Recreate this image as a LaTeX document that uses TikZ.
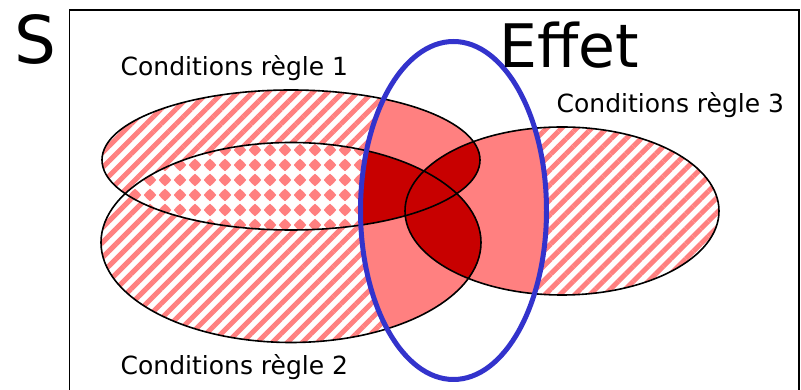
\documentclass[tikz,border=0pt]{standalone}
\usepackage{fontspec}
\setmainfont{DejaVu Sans}
\usetikzlibrary{patterns,patterns.meta}

\definecolor{lightred}{HTML}{FF8080}
\definecolor{darkred}{HTML}{C80000}
\definecolor{effetblue}{HTML}{3333CC}

\pgfdeclarepatternformonly{diamondgrid}{\pgfpoint{-7.5pt}{-7.5pt}}{\pgfpoint{7.5pt}{7.5pt}}{\pgfpoint{15pt}{15pt}}{
  \pgfpathmoveto{\pgfpoint{-6.2pt}{0pt}}
  \pgfpathcurveto{\pgfpoint{-4.8pt}{1.9pt}}{\pgfpoint{-1.9pt}{4.8pt}}{\pgfpoint{0pt}{6.2pt}}
  \pgfpathcurveto{\pgfpoint{1.9pt}{4.8pt}}{\pgfpoint{4.8pt}{1.9pt}}{\pgfpoint{6.2pt}{0pt}}
  \pgfpathcurveto{\pgfpoint{4.8pt}{-1.9pt}}{\pgfpoint{1.9pt}{-4.8pt}}{\pgfpoint{0pt}{-6.2pt}}
  \pgfpathcurveto{\pgfpoint{-1.9pt}{-4.8pt}}{\pgfpoint{-4.8pt}{-1.9pt}}{\pgfpoint{-6.2pt}{0pt}}
  \pgfpathclose
  \pgfusepath{fill}
}

\begin{document}
\begin{tikzpicture}[x=1pt,y=1pt,
  stripes/.style={pattern={Lines[angle=45,distance=10.6pt,line width=5pt]}, pattern color=lightred},
  dots/.style={pattern=diamondgrid, pattern color=lightred},
  outline/.style={draw=black, line width=1.6pt},
  effetline/.style={draw=effetblue, line width=5pt},
  lbl/.style={anchor=base west, inner sep=0pt, font=\fontsize{25}{30}\selectfont}]
\useasboundingbox (0,0) rectangle (801,390);

% striped condition sets
\fill[stripes] (291,230) ellipse [x radius=189pt, y radius=70pt];
\fill[stripes] (291,147.5) ellipse [x radius=190pt, y radius=100pt];
\fill[stripes] (562,179) ellipse [x radius=157pt, y radius=84pt];

% intersection of rules 1 and 2
\begin{scope}
  \clip (291,230) ellipse [x radius=189pt, y radius=70pt];
  \fill[white] (291,147.5) ellipse [x radius=190pt, y radius=100pt];
  \fill[dots] (291,147.5) ellipse [x radius=190pt, y radius=100pt];
\end{scope}

% inside Effet: light red
\begin{scope}
  \clip (453.5,179.5) ellipse [x radius=93pt, y radius=169pt];
  \fill[lightred] (291,230) ellipse [x radius=189pt, y radius=70pt];
  \fill[lightred] (291,147.5) ellipse [x radius=190pt, y radius=100pt];
  \fill[lightred] (562,179) ellipse [x radius=157pt, y radius=84pt];
\end{scope}
% inside Effet: dark red overlaps
\begin{scope}
  \clip (453.5,179.5) ellipse [x radius=93pt, y radius=169pt];
  \clip (291,230) ellipse [x radius=189pt, y radius=70pt];
  \fill[darkred] (291,147.5) ellipse [x radius=190pt, y radius=100pt];
  \fill[darkred] (562,179) ellipse [x radius=157pt, y radius=84pt];
\end{scope}
\begin{scope}
  \clip (453.5,179.5) ellipse [x radius=93pt, y radius=169pt];
  \clip (291,147.5) ellipse [x radius=190pt, y radius=100pt];
  \fill[darkred] (562,179) ellipse [x radius=157pt, y radius=84pt];
\end{scope}

% outlines
\draw[outline] (291,230) ellipse [x radius=189pt, y radius=70pt];
\draw[outline] (291,147.5) ellipse [x radius=190pt, y radius=100pt];
\draw[outline] (562,179) ellipse [x radius=157pt, y radius=84pt];
\draw[effetline] (453.5,179.5) ellipse [x radius=93pt, y radius=169pt];

% frame
\draw[line width=1.6pt] (69.5,-5) -- (69.5,380) -- (799,380) -- (799,-5);

% labels
\node[lbl] (c1) at (120.5,314) {Conditions règle 1};
\node[lbl] (c3) at (556.5,277) {Conditions règle 3};
\node[lbl] (c2) at (120.5,15.7) {Conditions règle 2};
\node[anchor=base west, inner sep=0pt, font=\fontsize{60}{70}\selectfont] (effet) at (499,322) {Effet};
\node[anchor=base west, inner sep=0pt, font=\fontsize{66}{76}\selectfont] (s) at (14,326) {S};
\end{tikzpicture}
\end{document}
